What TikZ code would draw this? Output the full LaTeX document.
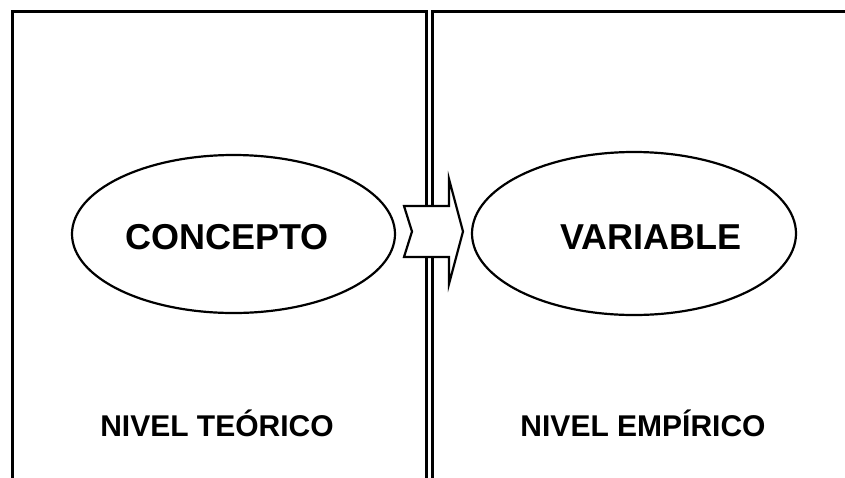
\documentclass[tikz,border=0pt]{standalone}
\usepackage{fontspec}
\setmainfont{Liberation Sans}
\usetikzlibrary{shapes.geometric}
\begin{document}
\begin{tikzpicture}[x=1pt,y=-1pt,
  frame/.style={line width=3pt},
  oval/.style={draw,ellipse,line width=2.2pt,inner sep=0pt},
  bigtxt/.style={anchor=base,inner sep=0pt,font=\fontsize{36}{40}\selectfont\bfseries},
  lvltxt/.style={anchor=base,inner sep=0pt,font=\fontsize{30}{34}\selectfont\bfseries},
  blockarrow/.style={draw,fill=white,line width=2.2pt,line join=miter}]
\clip (0,0) rectangle (845,477);
\useasboundingbox (0,0) rectangle (845,477);
% frames
\coordinate (lb) at (12,500);
\coordinate (lt) at (12,11);
\coordinate (lr) at (426,11);
\coordinate (lrb) at (426,500);
\coordinate (rb) at (432,500);
\coordinate (rt) at (432,11);
\coordinate (rr) at (860,11);
\draw[frame] (lb) -- (lt) -- (lr) -- (lrb);
\draw[frame] (rb) -- (rt) -- (rr);
% ellipses
\node[oval,minimum width=323pt,minimum height=158pt] (concepto) at (233.5,234) {};
\node[oval,minimum width=324pt,minimum height=163pt] (variable) at (634,233.5) {};
\node[bigtxt] (t1) at (227,249) {CONCEPTO};
\node[bigtxt] (t2) at (651,249) {VARIABLE};
% block arrow
\coordinate (a1) at (404,206);
\coordinate (a2) at (449,206);
\coordinate (a3) at (449,179);
\coordinate (a4) at (463,231.5);
\coordinate (a5) at (449,284);
\coordinate (a6) at (449,257);
\coordinate (a7) at (404,257);
\coordinate (a8) at (412,231.5);
\draw[blockarrow] (a1) -- (a2) -- (a3) -- (a4) -- (a5) -- (a6) -- (a7) -- (a8) -- cycle;
% level labels
\node[lvltxt] (n1) at (217,436) {NIVEL TEÓRICO};
\node[lvltxt] (n2) at (643,436) {NIVEL EMPÍRICO};
\end{tikzpicture}
\end{document}
